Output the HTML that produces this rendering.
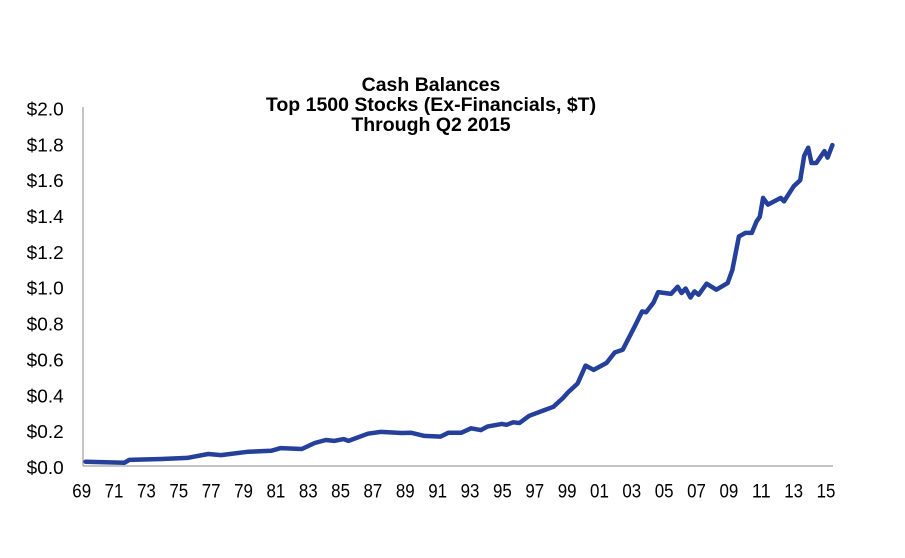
<!DOCTYPE html>
<html><head><meta charset="utf-8"><style>
body{margin:0;background:#fff;}
svg text{font-family:"Liberation Sans",Arial,sans-serif;fill:#000;}
</style></head><body>
<svg id="chart" width="905" height="553" xmlns="http://www.w3.org/2000/svg">
<g font-weight="bold" font-size="19.5" text-anchor="middle">
<text x="431" y="91">Cash Balances</text>
<text x="431" y="111">Top 1500 Stocks (Ex-Financials, $T)</text>
<text x="431" y="131">Through Q2 2015</text>
</g>
<g id="yaxis"></g>
<g id="xaxis"></g>
<line x1="83" y1="107" x2="83" y2="466" stroke="#888" stroke-width="1"/>
<line x1="83" y1="466" x2="833" y2="466" stroke="#888" stroke-width="1"/>
<path id="line" fill="none" stroke="#24409a" stroke-width="4.5" stroke-linejoin="round" stroke-linecap="round"/>
</svg>
<script>
const times=[1969.1,1971.5,1971.8,1973.8,1975.4,1976.7,1977.5,1979.2,1980.6,1981.2,1982.5,1983.3,1984,1984.5,1985.1,1985.4,1986.6,1987.4,1988.7,1989.3,1990.1,1991.1,1991.6,1992.4,1993,1993.6,1994,1994.9,1995.2,1995.6,1996,1996.6,1997.5,1998.1,1998.7,1999,1999.6,2000.1,2000.6,2001.4,2001.9,2002.4,2003.2,2003.6,2003.85,2004.3,2004.6,2005.4,2005.8,2006.05,2006.3,2006.6,2006.85,2007.1,2007.6,2008.2,2008.9,2009.2,2009.6,2010,2010.4,2010.7,2010.9,2011.1,2011.4,2012.2,2012.4,2013,2013.4,2013.65,2013.9,2014.1,2014.4,2014.9,2015.1,2015.4];
const values=[0.024,0.018,0.034,0.039,0.045,0.067,0.061,0.08,0.085,0.1,0.095,0.128,0.145,0.14,0.15,0.14,0.18,0.19,0.184,0.185,0.168,0.164,0.186,0.186,0.21,0.2,0.22,0.235,0.23,0.244,0.24,0.28,0.31,0.33,0.38,0.41,0.46,0.56,0.536,0.575,0.633,0.648,0.788,0.862,0.857,0.91,0.97,0.96,1.0,0.965,0.99,0.94,0.974,0.955,1.017,0.983,1.02,1.095,1.28,1.30,1.30,1.365,1.39,1.495,1.458,1.495,1.476,1.56,1.594,1.73,1.775,1.69,1.69,1.756,1.72,1.79];
const yTicks=[0,0.2,0.4,0.6,0.8,1.0,1.2,1.4,1.6,1.8,2.0];
const xTickYears=[1969,1971,1973,1975,1977,1979,1981,1983,1985,1987,1989,1991,1993,1995,1997,1999,2001,2003,2005,2007,2009,2011,2013,2015];
const NS='http://www.w3.org/2000/svg';
function xs(t){return 84+(t-1969)*16.13;}
function xl(t){return 81.7+(t-1969)*16.18;}
function ys(v){return 466-v*179.3;}
const ya=document.getElementById('yaxis');
yTicks.forEach(v=>{const t=document.createElementNS(NS,'text');
t.setAttribute('x',26.7);t.setAttribute('y',ys(v)+8);t.setAttribute('font-size','18.5');
t.setAttribute('textLength','37');t.setAttribute('lengthAdjust','spacingAndGlyphs');
t.textContent='$'+v.toFixed(1);


ya.appendChild(t);});
const xa=document.getElementById('xaxis');
xTickYears.forEach(y=>{const t=document.createElementNS(NS,'text');
t.setAttribute('x',xl(y)-9.4);t.setAttribute('y',497.5);t.setAttribute('font-size','19');
t.setAttribute('textLength','18.8');t.setAttribute('lengthAdjust','spacingAndGlyphs');
t.textContent=String(y%100).padStart(2,'0');


xa.appendChild(t);});
document.getElementById('line').setAttribute('d',times.map((t,i)=>(i?'L':'M')+xs(t).toFixed(1)+','+ys(values[i]).toFixed(1)).join(' '));
</script>
</body></html>
